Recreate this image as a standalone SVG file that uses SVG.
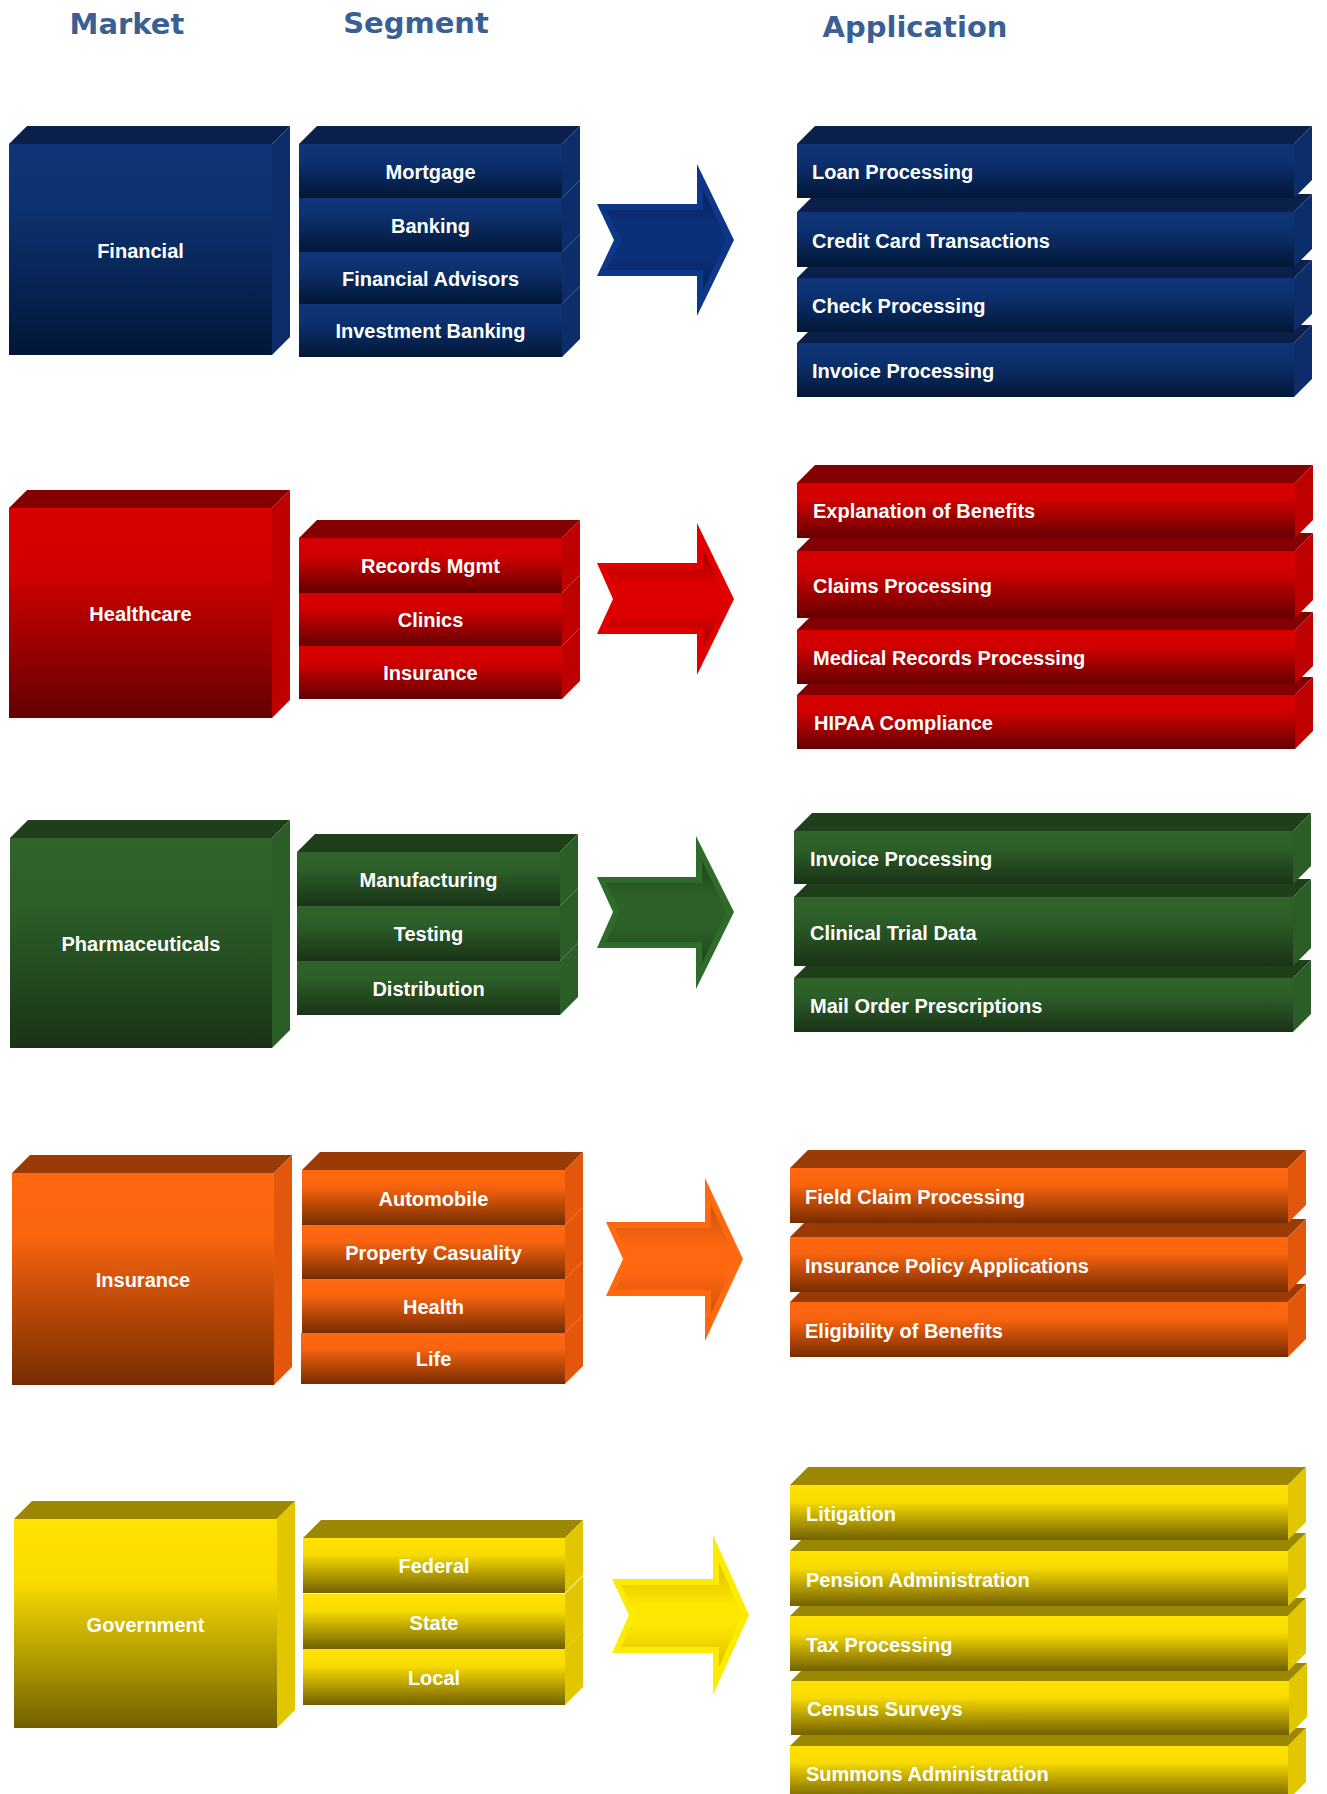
<svg xmlns="http://www.w3.org/2000/svg" width="1327" height="1794" viewBox="0 0 1327 1794">
<defs>
<linearGradient id="fb" x1="0" y1="0" x2="0" y2="1"><stop offset="0" stop-color="#0f3578"/><stop offset="0.3" stop-color="#0d3272"/><stop offset="1" stop-color="#021736"/></linearGradient>
<linearGradient id="fr" x1="0" y1="0" x2="0" y2="1"><stop offset="0" stop-color="#d80000"/><stop offset="0.3" stop-color="#d20000"/><stop offset="1" stop-color="#640000"/></linearGradient>
<linearGradient id="fg" x1="0" y1="0" x2="0" y2="1"><stop offset="0" stop-color="#2f642a"/><stop offset="0.3" stop-color="#2d6029"/><stop offset="1" stop-color="#1a3317"/></linearGradient>
<linearGradient id="fo" x1="0" y1="0" x2="0" y2="1"><stop offset="0" stop-color="#ff6810"/><stop offset="0.3" stop-color="#f9640f"/><stop offset="1" stop-color="#762c00"/></linearGradient>
<linearGradient id="fy" x1="0" y1="0" x2="0" y2="1"><stop offset="0" stop-color="#ffe200"/><stop offset="0.3" stop-color="#f8dc00"/><stop offset="1" stop-color="#726000"/></linearGradient>
<linearGradient id="ab" x1="0" y1="0" x2="0" y2="1"><stop offset="0" stop-color="#06225c"/><stop offset="0.35" stop-color="#0b307a"/><stop offset="0.65" stop-color="#0b307a"/><stop offset="1" stop-color="#06225c"/></linearGradient>
<linearGradient id="ar" x1="0" y1="0" x2="0" y2="1"><stop offset="0" stop-color="#a00000"/><stop offset="0.35" stop-color="#dc0000"/><stop offset="0.65" stop-color="#dc0000"/><stop offset="1" stop-color="#a00000"/></linearGradient>
<linearGradient id="ag" x1="0" y1="0" x2="0" y2="1"><stop offset="0" stop-color="#1f461b"/><stop offset="0.35" stop-color="#2c6127"/><stop offset="0.65" stop-color="#2c6127"/><stop offset="1" stop-color="#1f461b"/></linearGradient>
<linearGradient id="ao" x1="0" y1="0" x2="0" y2="1"><stop offset="0" stop-color="#cf520c"/><stop offset="0.4" stop-color="#ff6810"/><stop offset="0.6" stop-color="#ff6810"/><stop offset="1" stop-color="#cf520c"/></linearGradient>
<linearGradient id="ay" x1="0" y1="0" x2="0" y2="1"><stop offset="0" stop-color="#dcc000"/><stop offset="0.4" stop-color="#fde600"/><stop offset="0.6" stop-color="#fde600"/><stop offset="1" stop-color="#dcc000"/></linearGradient>
<style>
.hdr{font-family:"DejaVu Sans",Verdana,sans-serif;font-weight:bold;font-size:29px;fill:#3a5f94;text-anchor:middle}
.lbl{font-family:"Liberation Sans",Arial,sans-serif;font-weight:bold;font-size:20px;fill:#ffffff;text-anchor:middle}
.app{font-family:"Liberation Sans",Arial,sans-serif;font-weight:bold;font-size:20px;fill:#ffffff}
.tb{fill:#0a1f49}.sb{fill:#0c2d69}
.tr{fill:#840000}.sr{fill:#be0000}
.tg{fill:#1f3f1b}.sg{fill:#2b5d26}
.to{fill:#9a3a05}.so{fill:#e2570b}
.ty{fill:#9b8700}.sy{fill:#e2c700}
</style>
</defs>
<rect width="1327" height="1794" fill="#ffffff"/>

<g id="headers">
<text class="hdr" x="127" y="34">Market</text>
<text class="hdr" x="416" y="33">Segment</text>
<text class="hdr" x="915" y="37">Application</text>
</g>

<!-- FINANCIAL -->
<g id="market-financial">
<polygon class="tb" points="9,144 27,126 290,126 272,144"/>
<polygon class="sb" points="272,144 290,126 290,337 272,355"/>
<rect x="9" y="144" width="263" height="211" fill="url(#fb)"/>
<text class="lbl" x="140.5" y="258">Financial</text>
</g>
<g id="segments-financial">
<polygon class="tb" points="299,144 317,126 580,126 562,144"/>
<g id="seg-mortgage"><polygon class="sb" points="562,144 580,126 580,180 562,198"/><rect x="299" y="144" width="263" height="54" fill="url(#fb)"/><text class="lbl" x="430.5" y="179">Mortgage</text></g>
<g id="seg-banking"><polygon class="sb" points="562,198 580,180 580,234 562,252"/><rect x="299" y="198" width="263" height="54" fill="url(#fb)"/><text class="lbl" x="430.5" y="232.5">Banking</text></g>
<g id="seg-financial-advisors"><polygon class="sb" points="562,252 580,234 580,286 562,304"/><rect x="299" y="252" width="263" height="52" fill="url(#fb)"/><text class="lbl" x="430.5" y="285.5">Financial Advisors</text></g>
<g id="seg-investment-banking"><polygon class="sb" points="562,304 580,286 580,339 562,357"/><rect x="299" y="304" width="263" height="53" fill="url(#fb)"/><text class="lbl" x="430.5" y="338">Investment Banking</text></g>
</g>
<g id="apps-financial">
<g id="app-invoice-processing-fin"><polygon class="tb" points="797,343 815,325 1312,325 1294,343"/><polygon class="sb" points="1294,343 1312,325 1312,379 1294,397"/><rect x="797" y="343" width="497" height="54" fill="url(#fb)"/><text class="app" x="812" y="378">Invoice Processing</text></g>
<g id="app-check-processing"><polygon class="tb" points="797,278 815,260 1312,260 1294,278"/><polygon class="sb" points="1294,278 1312,260 1312,314 1294,332"/><rect x="797" y="278" width="497" height="54" fill="url(#fb)"/><text class="app" x="812" y="313">Check Processing</text></g>
<g id="app-credit-card"><polygon class="tb" points="797,212 815,194 1312,194 1294,212"/><polygon class="sb" points="1294,212 1312,194 1312,249 1294,267"/><rect x="797" y="212" width="497" height="55" fill="url(#fb)"/><text class="app" x="812" y="247.5">Credit Card Transactions</text></g>
<g id="app-loan-processing"><polygon class="tb" points="797,144 815,126 1312,126 1294,144"/><polygon class="sb" points="1294,144 1312,126 1312,180 1294,198"/><rect x="797" y="144" width="497" height="54" fill="url(#fb)"/><text class="app" x="812" y="179">Loan Processing</text></g>
</g>

<!-- HEALTHCARE -->
<g id="market-healthcare">
<polygon class="tr" points="9,508 27,490 290,490 272,508"/>
<polygon class="sr" points="272,508 290,490 290,700 272,718"/>
<rect x="9" y="508" width="263" height="210" fill="url(#fr)"/>
<text class="lbl" x="140.5" y="621">Healthcare</text>
</g>
<g id="segments-healthcare">
<polygon class="tr" points="299,538 317,520 580,520 562,538"/>
<g id="seg-records-mgmt"><polygon class="sr" points="562,538 580,520 580,575 562,593"/><rect x="299" y="538" width="263" height="55" fill="url(#fr)"/><text class="lbl" x="430.5" y="573">Records Mgmt</text></g>
<g id="seg-clinics"><polygon class="sr" points="562,593 580,575 580,628 562,646"/><rect x="299" y="593" width="263" height="53" fill="url(#fr)"/><text class="lbl" x="430.5" y="627">Clinics</text></g>
<g id="seg-insurance-hc"><polygon class="sr" points="562,646 580,628 580,681 562,699"/><rect x="299" y="646" width="263" height="53" fill="url(#fr)"/><text class="lbl" x="430.5" y="680">Insurance</text></g>
</g>
<g id="apps-healthcare">
<g id="app-hipaa"><polygon class="tr" points="797,695 815,677 1313,677 1295,695"/><polygon class="sr" points="1295,695 1313,677 1313,731 1295,749"/><rect x="797" y="695" width="498" height="54" fill="url(#fr)"/><text class="app" x="814" y="730">HIPAA Compliance</text></g>
<g id="app-medical-records"><polygon class="tr" points="797,630 815,612 1313,612 1295,630"/><polygon class="sr" points="1295,630 1313,612 1313,666 1295,684"/><rect x="797" y="630" width="498" height="54" fill="url(#fr)"/><text class="app" x="813" y="665">Medical Records Processing</text></g>
<g id="app-claims"><polygon class="tr" points="797,551 815,533 1313,533 1295,551"/><polygon class="sr" points="1295,551 1313,533 1313,600 1295,618"/><rect x="797" y="551" width="498" height="67" fill="url(#fr)"/><text class="app" x="813" y="592.5">Claims Processing</text></g>
<g id="app-eob"><polygon class="tr" points="797,483 815,465 1313,465 1295,483"/><polygon class="sr" points="1295,483 1313,465 1313,520 1295,538"/><rect x="797" y="483" width="498" height="55" fill="url(#fr)"/><text class="app" x="813" y="518">Explanation of Benefits</text></g>
</g>

<!-- PHARMACEUTICALS -->
<g id="market-pharmaceuticals">
<polygon class="tg" points="10,838 28,820 290,820 272,838"/>
<polygon class="sg" points="272,838 290,820 290,1030 272,1048"/>
<rect x="10" y="838" width="262" height="210" fill="url(#fg)"/>
<text class="lbl" x="141" y="951">Pharmaceuticals</text>
</g>
<g id="segments-pharmaceuticals">
<polygon class="tg" points="297,852 315,834 578,834 560,852"/>
<g id="seg-manufacturing"><polygon class="sg" points="560,852 578,834 578,888 560,906"/><rect x="297" y="852" width="263" height="54" fill="url(#fg)"/><text class="lbl" x="428.5" y="887">Manufacturing</text></g>
<g id="seg-testing"><polygon class="sg" points="560,906 578,888 578,943 560,961"/><rect x="297" y="906" width="263" height="55" fill="url(#fg)"/><text class="lbl" x="428.5" y="941">Testing</text></g>
<g id="seg-distribution"><polygon class="sg" points="560,961 578,943 578,997 560,1015"/><rect x="297" y="961" width="263" height="54" fill="url(#fg)"/><text class="lbl" x="428.5" y="996">Distribution</text></g>
</g>
<g id="apps-pharmaceuticals">
<g id="app-mail-order"><polygon class="tg" points="794,978 812,960 1311,960 1293,978"/><polygon class="sg" points="1293,978 1311,960 1311,1014 1293,1032"/><rect x="794" y="978" width="499" height="54" fill="url(#fg)"/><text class="app" x="810" y="1013">Mail Order Prescriptions</text></g>
<g id="app-clinical-trial"><polygon class="tg" points="794,897 812,879 1311,879 1293,897"/><polygon class="sg" points="1293,897 1311,879 1311,948 1293,966"/><rect x="794" y="897" width="499" height="69" fill="url(#fg)"/><text class="app" x="810" y="939.5">Clinical Trial Data</text></g>
<g id="app-invoice-processing-ph"><polygon class="tg" points="794,831 812,813 1311,813 1293,831"/><polygon class="sg" points="1293,831 1311,813 1311,866 1293,884"/><rect x="794" y="831" width="499" height="53" fill="url(#fg)"/><text class="app" x="810" y="865.5">Invoice Processing</text></g>
</g>

<!-- INSURANCE -->
<g id="market-insurance">
<polygon class="to" points="12,1173 30,1155 292,1155 274,1173"/>
<polygon class="so" points="274,1173 292,1155 292,1367 274,1385"/>
<rect x="12" y="1173" width="262" height="212" fill="url(#fo)"/>
<text class="lbl" x="143" y="1287">Insurance</text>
</g>
<g id="segments-insurance">
<polygon class="to" points="302,1170 320,1152 583,1152 565,1170"/>
<g id="seg-automobile"><polygon class="so" points="565,1170 583,1152 583,1207 565,1225"/><rect x="302" y="1170" width="263" height="55" fill="url(#fo)"/><text class="lbl" x="433.5" y="1205.5">Automobile</text></g>
<g id="seg-property"><polygon class="so" points="565,1225 583,1207 583,1261 565,1279"/><rect x="302" y="1225" width="263" height="54" fill="url(#fo)"/><text class="lbl" x="433.5" y="1260">Property Casuality</text></g>
<g id="seg-health"><polygon class="so" points="565,1279 583,1261 583,1315 565,1333"/><rect x="302" y="1279" width="263" height="54" fill="url(#fo)"/><text class="lbl" x="433.5" y="1314">Health</text></g>
<g id="seg-life"><polygon class="so" points="565,1333 583,1315 583,1366 565,1384"/><rect x="301" y="1333" width="264" height="51" fill="url(#fo)"/><text class="lbl" x="433.5" y="1366">Life</text></g>
</g>
<g id="apps-insurance">
<g id="app-eligibility"><polygon class="to" points="790,1302 808,1284 1306,1284 1288,1302"/><polygon class="so" points="1288,1302 1306,1284 1306,1339 1288,1357"/><rect x="790" y="1302" width="498" height="55" fill="url(#fo)"/><text class="app" x="805" y="1337.5">Eligibility of Benefits</text></g>
<g id="app-policy"><polygon class="to" points="790,1237 808,1219 1306,1219 1288,1237"/><polygon class="so" points="1288,1237 1306,1219 1306,1274 1288,1292"/><rect x="790" y="1237" width="498" height="55" fill="url(#fo)"/><text class="app" x="805" y="1272.5">Insurance Policy Applications</text></g>
<g id="app-field-claim"><polygon class="to" points="790,1168 808,1150 1306,1150 1288,1168"/><polygon class="so" points="1288,1168 1306,1150 1306,1205 1288,1223"/><rect x="790" y="1168" width="498" height="55" fill="url(#fo)"/><text class="app" x="805" y="1203.5">Field Claim Processing</text></g>
</g>

<!-- GOVERNMENT -->
<g id="market-government">
<polygon class="ty" points="14,1519 32,1501 295,1501 277,1519"/>
<polygon class="sy" points="277,1519 295,1501 295,1710 277,1728"/>
<rect x="14" y="1519" width="263" height="209" fill="url(#fy)"/>
<text class="lbl" x="145.5" y="1632">Government</text>
</g>
<g id="segments-government">
<polygon class="ty" points="303,1538 321,1520 583,1520 565,1538"/>
<g id="seg-local"><polygon class="sy" points="565,1649 583,1631 583,1687 565,1705"/><rect x="303" y="1649" width="262" height="56" fill="url(#fy)"/><text class="lbl" x="434" y="1685">Local</text></g>
<g id="seg-state"><polygon class="sy" points="565,1594 583,1576 583,1631 565,1649"/><rect x="303" y="1594" width="262" height="55" fill="url(#fy)"/><text class="lbl" x="434" y="1629.5">State</text></g>
<g id="seg-federal"><polygon class="sy" points="565,1538 583,1520 583,1575 565,1593"/><rect x="303" y="1538" width="262" height="55" fill="url(#fy)"/><text class="lbl" x="434" y="1573">Federal</text></g>
</g>
<g id="apps-government">
<g id="app-summons"><polygon class="ty" points="790,1746 808,1728 1306,1728 1288,1746"/><polygon class="sy" points="1288,1746 1306,1728 1306,1782 1288,1800"/><rect x="790" y="1746" width="498" height="54" fill="url(#fy)"/><text class="app" x="806" y="1781">Summons Administration</text></g>
<g id="app-census"><polygon class="ty" points="791,1681 809,1663 1307,1663 1289,1681"/><polygon class="sy" points="1289,1681 1307,1663 1307,1717 1289,1735"/><rect x="791" y="1681" width="498" height="54" fill="url(#fy)"/><text class="app" x="807" y="1716">Census Surveys</text></g>
<g id="app-tax"><polygon class="ty" points="790,1616 808,1598 1306,1598 1288,1616"/><polygon class="sy" points="1288,1616 1306,1598 1306,1653 1288,1671"/><rect x="790" y="1616" width="498" height="55" fill="url(#fy)"/><text class="app" x="806" y="1651.5">Tax Processing</text></g>
<g id="app-pension"><polygon class="ty" points="790,1551 808,1533 1306,1533 1288,1551"/><polygon class="sy" points="1288,1551 1306,1533 1306,1588 1288,1606"/><rect x="790" y="1551" width="498" height="55" fill="url(#fy)"/><text class="app" x="806" y="1586.5">Pension Administration</text></g>
<g id="app-litigation"><polygon class="ty" points="790,1485 808,1467 1306,1467 1288,1485"/><polygon class="sy" points="1288,1485 1306,1467 1306,1522 1288,1540"/><rect x="790" y="1485" width="498" height="55" fill="url(#fy)"/><text class="app" x="806" y="1520.5">Litigation</text></g>
</g>

<g id="connectors">
<g id="arrow-financial">
<polygon fill="#0d3888" points="597,204 697,204 697,164 734,240 697,316 697,276 597,276 614,240"/>
<polygon fill="url(#ab)" points="606,210 703,210 703,190 727,240 703,290 703,270 606,270 621,240"/>
</g>
<g id="arrow-healthcare">
<polygon fill="#e00000" points="597,563 697,563 697,523 734,599 697,675 697,634 597,634 613,599"/>
<polygon fill="url(#ar)" points="606,569 703,569 703,549 727,599 703,649 703,628 606,628 620,599"/>
</g>
<g id="arrow-pharmaceuticals">
<polygon fill="#2f6b2a" points="597,877 696,877 696,836 734,912 696,989 696,948 597,948 613,912"/>
<polygon fill="url(#ag)" points="606,883 702,883 702,861 727,912 702,963 702,942 606,942 620,912"/>
</g>
<g id="arrow-insurance">
<polygon fill="#ff6a10" points="606,1222 705,1222 705,1178 743,1259 705,1341 705,1296 606,1296 623,1259"/>
<polygon fill="url(#ao)" points="615,1228 711,1228 711,1205 736,1259 711,1314 711,1290 615,1290 630,1259"/>
</g>
<g id="arrow-government">
<polygon fill="#fdec00" points="612,1579 713,1579 713,1535 749,1615 713,1695 713,1653 612,1653 629,1615"/>
<polygon fill="url(#ay)" points="621,1585 719,1585 719,1563 742,1615 719,1667 719,1647 621,1647 636,1615"/>
</g>
</g>
</svg>
